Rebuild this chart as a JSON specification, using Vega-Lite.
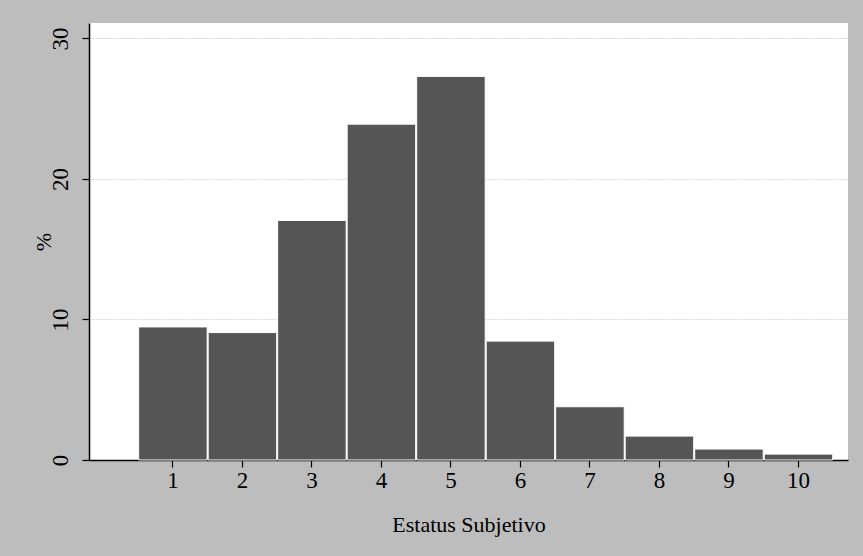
{
  "$schema": "https://vega.github.io/schema/vega-lite/v6.json",
  "autosize": {"type": "none"},
  "width": 759,
  "height": 437,
  "padding": {"left": 89, "top": 23, "right": 15, "bottom": 96},
  "background": "#bdbdbd",
  "config": {
    "view": {"fill": "white", "stroke": null},
    "font": "Liberation Serif"
  },
  "data": {
    "values": [
      {"lo": 0.5, "hi": 1.5, "pct": 9.47},
      {"lo": 1.5, "hi": 2.5, "pct": 9.07},
      {"lo": 2.5, "hi": 3.5, "pct": 17.05},
      {"lo": 3.5, "hi": 4.5, "pct": 23.9},
      {"lo": 4.5, "hi": 5.5, "pct": 27.3},
      {"lo": 5.5, "hi": 6.5, "pct": 8.46},
      {"lo": 6.5, "hi": 7.5, "pct": 3.79},
      {"lo": 7.5, "hi": 8.5, "pct": 1.7},
      {"lo": 8.5, "hi": 9.5, "pct": 0.78},
      {"lo": 9.5, "hi": 10.5, "pct": 0.42}
    ]
  },
  "mark": {"type": "bar", "color": "#555555", "stroke": "white", "strokeWidth": 1},
  "encoding": {
    "x": {
      "field": "lo",
      "type": "quantitative",
      "bin": {"binned": true, "step": 1},
      "scale": {"domain": [-0.2, 10.72], "nice": false, "zero": false},
      "axis": {
        "values": [1, 2, 3, 4, 5, 6, 7, 8, 9, 10],
        "grid": false,
        "title": "Estatus Subjetivo",
        "titleFont": "Liberation Serif",
        "titleFontSize": 22,
        "titleFontWeight": "normal",
        "titleColor": "black",
        "titlePadding": 22,
        "labelFont": "Liberation Serif",
        "labelFontSize": 23,
        "labelColor": "black",
        "labelPadding": 2,
        "domainColor": "black",
        "domainWidth": 1.5,
        "tickColor": "black",
        "tickSize": 7,
        "tickWidth": 1.2,
        "labelFlush": false
      }
    },
    "x2": {"field": "hi"},
    "y": {
      "field": "pct",
      "type": "quantitative",
      "scale": {"domain": [0, 31.1], "nice": false},
      "axis": {
        "values": [0, 10, 20, 30],
        "title": "%",
        "titleFont": "Liberation Serif",
        "titleFontSize": 22,
        "titleFontWeight": "normal",
        "titleColor": "black",
        "titlePadding": -6,
        "labelFont": "Liberation Serif",
        "labelFontSize": 23,
        "labelColor": "black",
        "labelAngle": -90,
        "labelAlign": "center",
        "labelBaseline": "bottom",
        "labelPadding": 10,
        "labelFlush": false,
        "domainColor": "black",
        "domainWidth": 1.5,
        "tickColor": "black",
        "tickSize": 7,
        "tickWidth": 1.2,
        "grid": true,
        "gridColor": "#d8d8d8",
        "gridDash": [2, 1],
        "gridWidth": 1
      }
    }
  }
}
